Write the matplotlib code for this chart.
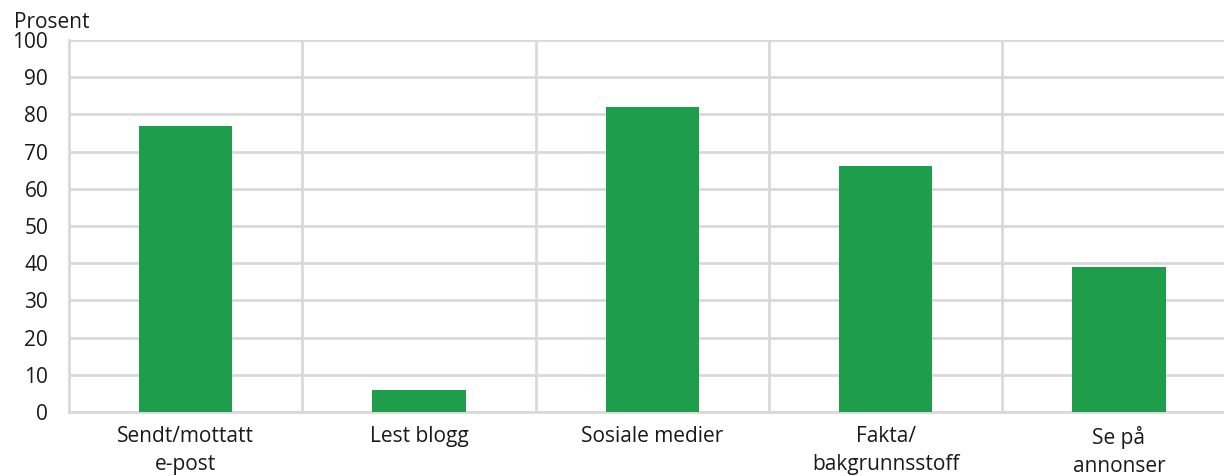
import matplotlib.pyplot as plt
import numpy as np

plt.rcParams['font.family'] = ['Open Sans', 'DejaVu Sans']

categories = ['Sendt/mottatt\ne-post', 'Lest blogg', 'Sosiale medier',
              'Fakta/\nbakgrunnsstoff', 'Se på\nannonser']
values = [77, 6, 82, 66, 39]
yticks = [0, 10, 20, 30, 40, 50, 60, 70, 80, 90, 100]

W, H = 1224, 476
fig = plt.figure(figsize=(W / 100, H / 100), dpi=100)
ax = fig.add_axes([69 / W, 1 - 412 / H, 1 - 69 / W, (412 - 40) / H])

x = np.arange(len(categories))
ax.bar(x, values, width=0.4, color='#1e9d4b', zorder=3)

grid_col = '#d9d9d9'
ax.set_ylim(0, 100)
ax.set_yticks(yticks)
ax.set_xlim(-0.5, (W - 69) / 233.3 - 0.5)
ax.set_xticks(x)
ax.set_xticklabels(categories, linespacing=1.42)
ax.set_xticks(x[:-1] + 0.5, minor=True)

ax.grid(axis='y', color=grid_col, linewidth=2, zorder=0)
ax.grid(axis='x', which='minor', color=grid_col, linewidth=2, zorder=0)
ax.grid(axis='x', which='major', visible=False)

for s in ['top', 'right']:
    ax.spines[s].set_visible(False)
for s in ['left', 'bottom']:
    ax.spines[s].set_color(grid_col)
    ax.spines[s].set_linewidth(2)

ax.tick_params(axis='both', which='both', length=0, labelsize=15, colors='#1a1a1a')
ax.tick_params(axis='y', pad=15)
ax.tick_params(axis='x', pad=10)

fig.text(14 / W, 1 - 28 / H, 'Prosent', fontsize=15, color='#1a1a1a')

fig.savefig('out.png', dpi=100)
